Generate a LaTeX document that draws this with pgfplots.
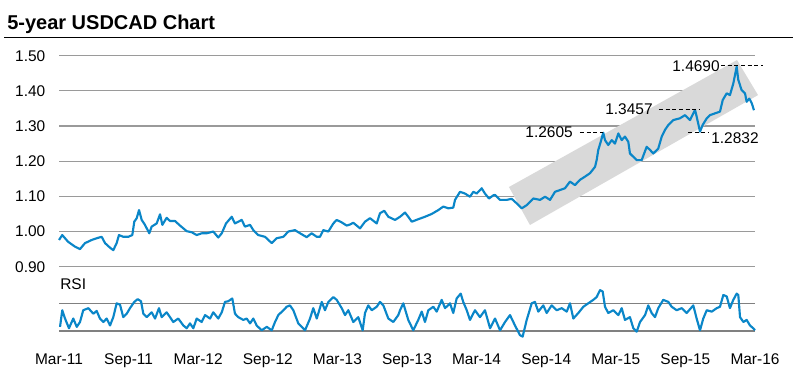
\documentclass[border=0pt]{standalone}
\usepackage{pgfplots}
\pgfplotsset{compat=1.18}
\usepackage{fontspec}
\setmainfont{Liberation Sans}
\definecolor{fxblue}{HTML}{0A86C8}
\definecolor{chan}{HTML}{D9D9D9}
\definecolor{gridc}{HTML}{9A9A9A}
\definecolor{gridr}{HTML}{808080}
\begin{document}
\begin{tikzpicture}[x=0.75pt,y=0.75pt]
\useasboundingbox (0,0) rectangle (793,379);
\node[anchor=base west,inner sep=0,font=\fontsize{15}{18}\selectfont\bfseries] at (7,349) {5-year USDCAD Chart};
\draw[line width=0.75pt] (4,341) -- (793,341);
\begin{axis}[
  at={(44.25pt,84.225pt)}, anchor=south west,
  scale only axis, width=522pt, height=158.25pt,
  xmin=0, xmax=60, ymin=0.9, ymax=1.5,
  clip=false,
  axis line style={draw=none},
  xtick=\empty,
  ytick={0.9,1,1.1,1.2,1.3,1.4,1.5},
  major tick length=0pt,
  ymajorgrids, grid style={gridc, line width=0.9pt},
  yticklabel style={font=\fontsize{11.6}{13}\selectfont, xshift=-6.75pt,
    /pgf/number format/.cd, fixed, fixed zerofill, precision=2, assume math mode=true},
]
\addplot[fill=chan, draw=none] coordinates {(38.79,1.1266) (58.45,1.4877) (60.26,1.388) (40.60,1.0186)} -- cycle;
\addplot[fxblue, line width=1.6pt, line join=round] coordinates {
(0.00,0.976)(0.28,0.990)(0.78,0.971)(1.38,0.957)(1.81,0.950)(2.24,0.967)(2.82,0.976)(3.36,0.982)(3.68,0.985)(3.97,0.967)
(4.40,0.954)(4.68,0.947)(4.97,0.967)(5.17,0.990)(5.54,0.985)(5.97,0.985)(6.32,0.990)(6.49,1.028)(6.70,1.038)(6.90,1.061)
(7.13,1.033)(7.41,1.019)(7.78,0.995)(7.99,1.014)(8.42,1.023)(8.71,1.049)(8.91,1.019)(9.28,1.039)(9.57,1.030)(10.00,1.030)
(10.43,1.017)(11.01,1.001)(11.44,0.998)(11.87,0.990)(12.30,0.995)(12.73,0.995)(13.30,1.000)(13.73,0.983)(14.03,0.995)(14.40,1.023)
(14.89,1.042)(15.17,1.023)(15.75,1.033)(16.03,1.014)(16.47,1.019)(16.75,1.004)(17.18,0.990)(17.76,0.985)(18.34,0.967)(18.77,0.981)
(19.34,0.985)(19.77,1.000)(20.34,1.004)(20.78,0.995)(21.35,0.984)(21.78,0.995)(22.22,0.985)(22.50,0.985)(22.78,1.004)(23.22,1.000)
(23.65,1.023)(23.94,1.033)(24.37,1.026)(24.80,1.017)(25.09,1.020)(25.37,1.025)(25.95,1.009)(26.38,1.028)(26.81,1.038)(27.39,1.023)
(27.67,1.052)(28.04,1.059)(28.39,1.042)(28.97,1.033)(29.40,1.042)(29.83,1.054)(30.11,1.042)(30.41,1.028)(30.97,1.035)(31.55,1.042)
(32.13,1.050)(32.70,1.061)(33.13,1.071)(33.56,1.066)(33.99,1.068)(34.14,1.090)(34.57,1.113)(35.00,1.108)(35.43,1.099)(35.72,1.113)
(36.01,1.108)(36.44,1.123)(36.72,1.108)(37.07,1.094)(37.44,1.103)(37.59,1.104)(38.02,1.090)(38.59,1.090)(39.03,1.093)(39.46,1.080)
(39.89,1.066)(40.32,1.075)(40.89,1.094)(41.47,1.090)(41.90,1.099)(42.33,1.090)(42.76,1.113)(43.19,1.118)(43.62,1.123)(44.05,1.142)
(44.48,1.132)(44.91,1.147)(45.34,1.156)(45.78,1.166)(46.21,1.184)(46.35,1.203)(46.49,1.232)(46.70,1.255)(46.92,1.281)(47.07,1.260)
(47.35,1.246)(47.65,1.260)(47.93,1.250)(48.22,1.279)(48.51,1.260)(48.79,1.270)(49.08,1.255)(49.22,1.222)(49.80,1.203)(50.23,1.203)
(50.66,1.241)(50.95,1.232)(51.23,1.222)(51.66,1.236)(51.96,1.270)(52.24,1.289)(52.53,1.303)(52.96,1.317)(53.53,1.322)(53.97,1.331)
(54.40,1.317)(54.83,1.346)(54.97,1.327)(55.26,1.284)(55.49,1.303)(55.84,1.322)(56.12,1.331)(56.55,1.336)(56.98,1.341)(57.22,1.374)
(57.56,1.393)(57.84,1.388)(58.13,1.421)(58.42,1.469)(58.56,1.431)(58.85,1.402)(59.14,1.393)(59.28,1.369)(59.51,1.378)(59.72,1.365)
(59.91,1.345)
};
\begin{scope}[font=\fontsize{11.6}{13}\selectfont]
\draw[dash pattern=on 3pt off 2pt, line width=0.6pt] (axis cs:57.07,1.471) -- (axis cs:60.69,1.471);
\node[anchor=east, inner sep=0] at (axis cs:56.98,1.471) {1.4690};
\draw[dash pattern=on 3pt off 2pt, line width=0.6pt] (axis cs:51.72,1.3475) -- (axis cs:55.26,1.3475);
\node[anchor=east, inner sep=0] at (axis cs:51.2,1.3475) {1.3457};
\draw[dash pattern=on 3pt off 2pt, line width=0.6pt] (axis cs:44.91,1.283) -- (axis cs:46.90,1.283);
\node[anchor=east, inner sep=0] at (axis cs:44.31,1.283) {1.2605};
\draw[dash pattern=on 3pt off 2pt, line width=0.6pt] (axis cs:54.22,1.283) -- (axis cs:55.95,1.283);
\node[anchor=west, inner sep=0] at (axis cs:56.21,1.266) {1.2832};
\end{scope}
\end{axis}
\node[anchor=base west, inner sep=0, font=\fontsize{11.6}{13}\selectfont] at (60,90) {RSI};
\begin{axis}[
  at={(44.25pt,28.2pt)}, anchor=south west,
  scale only axis, width=522pt, height=41.55pt,
  xmin=0, xmax=60, ymin=15, ymax=95,
  clip=false,
  axis line style={draw=none},
  xtick={0,6,...,60},
  xticklabels={Mar-11,Sep-11,Mar-12,Sep-12,Mar-13,Sep-13,Mar-14,Sep-14,Mar-15,Sep-15,Mar-16},
  ytick={30,70}, yticklabels={},
  major tick length=0pt,
  ymajorgrids, grid style={gridr, line width=0.8pt},
  xticklabel style={font=\fontsize{11.6}{13}\selectfont, yshift=-5.85pt},
]
\addplot[fxblue, line width=1.6pt, line join=round] coordinates {
(0.09,36)(0.28,60)(0.52,48)(0.86,34)(1.23,48)(1.53,36)(1.81,43)(2.09,60)(2.53,63)(2.96,55)
(3.25,59)(3.53,48)(3.82,43)(4.11,48)(4.40,38)(4.68,50)(4.97,70)(5.26,68)(5.54,50)(5.84,55)
(6.12,63)(6.49,72)(6.78,76)(7.07,73)(7.27,55)(7.56,50)(7.99,57)(8.28,48)(8.62,63)(8.85,50)
(9.28,57)(9.57,50)(9.85,43)(10.28,48)(10.72,38)(11.01,34)(11.29,41)(11.58,34)(11.87,48)(12.30,43)
(12.59,53)(13.02,48)(13.30,57)(13.73,48)(14.03,57)(14.31,72)(14.59,73)(14.94,77)(15.17,55)(15.46,50)
(15.89,46)(16.18,48)(16.47,41)(16.75,48)(17.04,38)(17.47,31)(17.91,36)(18.34,31)(18.62,43)(18.91,53)
(19.34,60)(19.63,65)(19.91,67)(20.20,60)(20.63,41)(21.21,31)(21.64,48)(21.92,63)(22.22,48)(22.65,72)
(22.93,60)(23.22,72)(23.65,79)(23.94,75)(24.37,63)(24.66,53)(24.94,60)(25.37,43)(25.80,50)(26.18,31)
(26.38,56)(26.66,67)(26.96,60)(27.39,65)(27.67,72)(27.96,67)(28.39,48)(28.82,43)(29.25,53)(29.40,60)
(29.68,70)(30.11,46)(30.54,31)(30.97,46)(31.27,58)(31.55,43)(31.84,60)(32.27,65)(32.56,58)(32.99,75)
(33.28,63)(33.71,70)(33.99,56)(34.28,77)(34.63,84)(34.85,72)(35.15,60)(35.43,46)(35.86,60)(36.29,50)
(36.72,60)(37.16,34)(37.59,48)(38.02,31)(38.45,43)(38.88,53)(39.31,38)(39.74,24)(39.97,22)(40.32,46)
(40.75,70)(41.03,72)(41.32,58)(41.75,67)(42.04,56)(42.47,67)(42.91,60)(43.34,63)(43.77,58)(44.05,70)
(44.34,48)(44.77,56)(45.20,65)(45.63,70)(46.06,75)(46.35,79)(46.64,89)(46.87,87)(47.07,65)(47.35,56)
(47.78,60)(48.22,53)(48.51,63)(48.79,46)(49.22,50)(49.51,34)(49.80,29)(50.09,43)(50.52,53)(50.80,67)
(51.09,56)(51.38,50)(51.66,63)(52.09,75)(52.53,72)(52.82,65)(53.25,60)(53.68,63)(54.11,56)(54.68,67)
(54.97,48)(55.26,31)(55.54,48)(55.84,60)(56.27,58)(56.70,63)(56.98,65)(57.27,82)(57.56,80)(57.84,63)
(58.13,75)(58.42,84)(58.56,82)(58.71,50)(59.00,43)(59.28,46)(59.57,38)(59.85,34)(60.00,31)
};
\end{axis}
\end{tikzpicture}
\end{document}
